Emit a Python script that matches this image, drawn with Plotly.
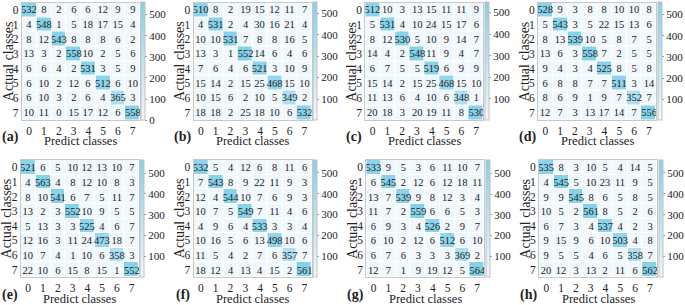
import plotly.graph_objects as go

W, H = 685, 305
classes = [0, 1, 2, 3, 4, 5, 6, 7]
class_labels = ["0", "1", "2", "3", "4", "5", "6", "7"]
panel_names = ["(a)", "(b)", "(c)", "(d)", "(e)", "(f)", "(g)", "(h)"]

cm_a = [[532, 8, 2, 6, 6, 12, 9, 9], [4, 548, 1, 5, 18, 17, 15, 4], [8, 12, 543, 8, 8, 8, 6, 2],
        [13, 3, 2, 558, 10, 2, 5, 6], [6, 6, 4, 2, 531, 3, 5, 9], [6, 10, 2, 12, 6, 512, 6, 10],
        [6, 10, 3, 2, 6, 4, 365, 3], [10, 11, 0, 15, 17, 12, 6, 558]]
cm_b = [[510, 8, 2, 19, 15, 12, 11, 7], [4, 531, 2, 4, 30, 16, 21, 4], [10, 10, 531, 7, 8, 8, 16, 5],
        [13, 3, 1, 552, 14, 6, 4, 6], [7, 6, 4, 6, 521, 3, 10, 9], [15, 14, 2, 15, 25, 468, 15, 10],
        [10, 15, 6, 2, 10, 5, 349, 2], [18, 18, 2, 25, 18, 10, 6, 532]]
cm_c = [[512, 10, 3, 13, 15, 11, 11, 9], [5, 531, 4, 10, 24, 15, 17, 6], [8, 12, 530, 5, 10, 9, 14, 7],
        [14, 4, 2, 548, 11, 9, 4, 7], [6, 7, 5, 5, 519, 6, 9, 9], [15, 14, 2, 15, 25, 468, 15, 10],
        [11, 13, 6, 4, 10, 6, 348, 1], [20, 18, 3, 20, 19, 11, 8, 530]]
cm_d = [[528, 9, 3, 8, 8, 10, 10, 8], [5, 543, 3, 5, 22, 15, 13, 6], [8, 13, 539, 10, 5, 8, 7, 5],
        [13, 6, 3, 558, 7, 2, 5, 5], [9, 4, 3, 4, 525, 8, 5, 8], [6, 8, 8, 7, 7, 511, 3, 14],
        [8, 6, 9, 1, 9, 7, 352, 7], [12, 7, 3, 13, 17, 14, 7, 556]]
cm_e = [[521, 6, 5, 10, 12, 13, 10, 7], [4, 563, 4, 8, 12, 10, 8, 3], [8, 10, 541, 6, 7, 5, 11, 7],
        [13, 2, 3, 552, 10, 9, 5, 5], [5, 13, 3, 3, 525, 4, 6, 7], [12, 16, 3, 11, 24, 473, 18, 7],
        [10, 7, 4, 1, 10, 6, 358, 3], [22, 10, 6, 15, 8, 15, 1, 552]]
cm_f = [[532, 5, 4, 12, 6, 8, 11, 6], [7, 543, 8, 9, 22, 11, 9, 3], [12, 4, 544, 10, 7, 6, 9, 3],
        [10, 7, 5, 549, 7, 11, 4, 6], [4, 9, 6, 4, 533, 3, 3, 4], [10, 16, 5, 6, 13, 498, 10, 6],
        [11, 5, 4, 2, 7, 6, 357, 7], [18, 12, 4, 13, 4, 15, 2, 561]]
cm_g = [[533, 9, 5, 3, 6, 11, 10, 7], [6, 545, 2, 12, 6, 12, 18, 11], [13, 7, 539, 9, 8, 12, 3, 4],
        [11, 7, 2, 559, 6, 6, 5, 3], [6, 9, 3, 4, 526, 2, 9, 7], [6, 10, 2, 12, 6, 512, 6, 10],
        [6, 7, 6, 3, 3, 3, 369, 2], [12, 7, 1, 9, 19, 12, 5, 564]]
cm_h = [[535, 8, 3, 10, 5, 4, 14, 5], [4, 545, 5, 10, 23, 11, 9, 5], [9, 9, 545, 8, 6, 5, 8, 5],
        [10, 5, 2, 561, 8, 5, 2, 6], [6, 7, 3, 4, 537, 4, 2, 3], [9, 15, 9, 6, 10, 503, 4, 8],
        [9, 5, 5, 4, 6, 5, 358, 7], [20, 12, 3, 13, 2, 11, 6, 562]]

matrices = [cm_a, cm_b, cm_c, cm_d, cm_e, cm_f, cm_g, cm_h]

# pixel boxes of each heatmap: (left, right, top, bottom)
boxes = [(22, 141, 2.5, 120), (195, 314, 2.5, 120), (368, 487, 2.5, 120), (542, 661, 2.5, 120),
         (21, 140, 160, 277), (195, 314, 160, 277), (369, 488, 160, 277), (543, 662, 160, 277)]

FONT = "Liberation Serif"
scale = [[0, "#f1f8fc"], [1, "#84d1ea"]]

fig = go.Figure()
layout = dict(width=W, height=H, margin=dict(l=0, r=0, t=0, b=0),
              paper_bgcolor="white", plot_bgcolor="white",
              font=dict(family=FONT, color="#222"), annotations=[])

for i, (cm, (l, r, t, b)) in enumerate(zip(matrices, boxes)):
    n = i + 1
    xa = "x" if n == 1 else f"x{n}"
    ya = "y" if n == 1 else f"y{n}"
    flat = [v for row in cm for v in row]
    fig.add_trace(go.Heatmap(
        z=cm, x=classes, y=classes, xaxis=xa, yaxis=ya,
        colorscale=scale, zmin=min(flat), zmax=max(flat),
        xgap=1, ygap=1,
        text=cm, texttemplate="%{text}",
        textfont=dict(family=FONT, size=10.5, color="#222"),
        colorbar=dict(x=(r + 1.5) / W, xanchor="left", xpad=0,
                      y=1 - (t + b) / 2 / H, yanchor="middle", ypad=0,
                      len=(b - t) / H, lenmode="fraction", thickness=4,
                      outlinewidth=1, outlinecolor="#c0c0c0",
                      dtick=100, ticks="outside", ticklen=2, tickcolor="#999",
                      tickfont=dict(family=FONT, size=11, color="#222")),
        hoverinfo="skip"))
    axkey = "xaxis" if n == 1 else f"xaxis{n}"
    aykey = "yaxis" if n == 1 else f"yaxis{n}"
    layout[axkey] = dict(domain=[l / W, r / W], anchor=ya, range=[-0.5, 7.5],
                         tickvals=classes, ticktext=class_labels, ticks="",
                         tickfont=dict(family=FONT, size=11.5, color="#222"),
                         showgrid=False, zeroline=False, showline=True, mirror=True,
                         linecolor="#c8c8c8", linewidth=1, fixedrange=True)
    layout[aykey] = dict(domain=[1 - b / H, 1 - t / H], anchor=xa, range=[7.5, -0.5],
                         tickvals=classes, ticktext=class_labels, ticks="",
                         tickfont=dict(family=FONT, size=11.5, color="#222"),
                         showgrid=False, zeroline=False, showline=True, mirror=True,
                         linecolor="#c8c8c8", linewidth=1, fixedrange=True)
    cx = (l + r) / 2
    cy = (t + b) / 2
    top_row = i < 4
    title_y = 141 if top_row else 299
    label_y = 137 if top_row else 295
    layout["annotations"].append(dict(
        text="Predict classes", x=cx / W, y=1 - title_y / H, xref="paper", yref="paper",
        xanchor="center", yanchor="middle", showarrow=False,
        font=dict(family=FONT, size=12.5, color="#222")))
    layout["annotations"].append(dict(
        text="Actual classes", x=(l - 14) / W, y=1 - cy / H, xref="paper", yref="paper",
        xanchor="center", yanchor="middle", textangle=-90, showarrow=False,
        font=dict(family=FONT, size=14, color="#222")))
    layout["annotations"].append(dict(
        text="<b>" + panel_names[i] + "</b>", x=(l - 11) / W, y=1 - label_y / H,
        xref="paper", yref="paper", xanchor="center", yanchor="middle", showarrow=False,
        font=dict(family=FONT, size=14, color="#222")))

fig.update_layout(**layout)
fig.write_html("out.html", config={"displayModeBar": False},
               post_script="document.body.style.margin='0';")
